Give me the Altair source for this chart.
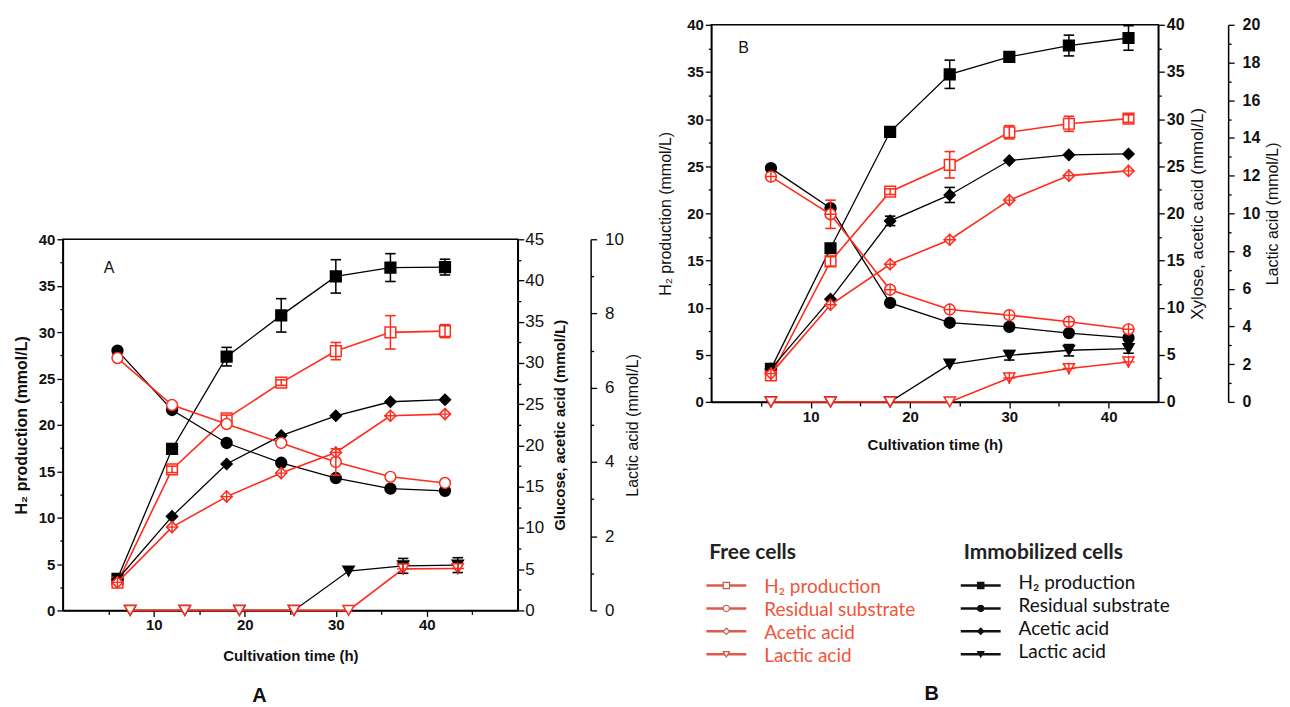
import altair as alt
import pandas as pd

# ---------------- values ----------------
# Panel A (glucose)
time_A = [6, 12, 18, 24, 30, 36, 42]
time_A_lactic = [7.4, 13.4, 19.4, 25.4, 31.4, 37.4, 43.4]
A_h2_imm = [3.4, 17.4, 27.35, 31.8, 36.0, 36.95, 37.0]
A_h2_imm_err = [0, 0, 1.0, 1.8, 1.8, 1.5, 0.85]
A_h2_free = [3.0, 15.2, 20.7, 24.55, 27.95, 29.97, 30.1]
A_h2_free_err = [0, 0.35, 0.35, 0.3, 0.93, 1.8, 0.7]
A_sub_imm = [31.5, 24.3, 20.3, 17.9, 16.05, 14.76, 14.5]
A_sub_imm_err = [0, 0, 0, 0, 0, 0, 0]
A_sub_free = [30.6, 24.9, 22.6, 20.3, 18.0, 16.2, 15.45]
A_sub_free_err = [0, 0, 0, 0, 1.6, 0, 0]
A_ace_imm = [3.75, 11.4, 17.75, 21.2, 23.6, 25.3, 25.55]
A_ace_imm_err = [0, 0, 0, 0, 0, 0, 0]
A_ace_free = [3.4, 10.1, 13.8, 16.65, 19.15, 23.6, 23.8]
A_ace_free_err = [0, 0, 0, 0, 0, 0, 0]
A_lac_imm = [0, 0, 0, 0, 1.06, 1.2, 1.22]
A_lac_imm_err = [0, 0, 0, 0, 0, 0.2, 0.2]
A_lac_free = [0, 0, 0, 0, 0, 1.12, 1.13]
A_lac_free_err = [0, 0, 0, 0, 0, 0, 0]

# Panel B (xylose)
time_B = [6, 12, 18, 24, 30, 36, 42]
B_h2_imm = [3.5, 16.3, 28.65, 34.75, 36.6, 37.8, 38.6]
B_h2_imm_err = [0, 0, 0, 1.5, 0.3, 1.1, 1.3]
B_h2_free = [2.8, 14.9, 22.3, 25.15, 28.6, 29.5, 30.05]
B_h2_free_err = [0, 0.5, 0.3, 1.4, 0.7, 0.8, 0.4]
B_sub_imm = [24.8, 20.55, 10.5, 8.4, 7.95, 7.3, 6.8]
B_sub_imm_err = [0, 0, 0, 0, 0, 0, 0]
B_sub_free = [23.9, 19.9, 11.9, 9.8, 9.2, 8.5, 7.7]
B_sub_free_err = [0, 1.5, 0, 0, 0, 0, 0]
B_ace_imm = [3.5, 10.9, 19.2, 21.95, 25.6, 26.2, 26.3]
B_ace_imm_err = [0, 0, 0.5, 0.8, 0, 0, 0]
B_ace_free = [3.0, 10.3, 14.6, 17.2, 21.4, 24.0, 24.5]
B_ace_free_err = [0, 0, 0, 0, 0, 0, 0]
B_lac_imm = [0, 0, 0, 2.0, 2.47, 2.74, 2.83]
B_lac_imm_err = [0, 0, 0, 0, 0.25, 0.3, 0.25]
B_lac_free = [0, 0, 0, 0, 1.27, 1.77, 2.12]
B_lac_free_err = [0, 0, 0, 0, 0, 0, 0]

# Legend text
legend_groups = ["Free cells", "Immobilized cells"]
legend_items = ["H\u2082 production", "Residual substrate", "Acetic acid", "Lactic acid"]

# ---------------- styling ----------------
FONT = "Liberation Sans"
LFONT = "Lato"
RED = "#ff2b1c"
BLACK = "#000000"
TXT = "#111111"
KEYS = ["h2", "sub", "ace", "lac"]
SHAPES = ["square", "circle", "diamond", "triangle-down"]
SIZES = [115, 125, 190, 150]


def sdf(times, vals, errs, key, cell):
    return pd.DataFrame({"t": times, "v": vals, "err": errs, "key": key, "cell": cell})


def yaxis(title, maxv, step, every, orient, lsize, lweight, tsize, tweight,
          lpad, tpad, offset=0):
    n = int(round(maxv / step))
    vals = [round(i * step, 3) for i in range(n + 1)]
    kw = dict(
        title=title, values=vals, orient=orient, grid=False,
        labelExpr=f"datum.value % {every} === 0 ? datum.label : ''",
        tickSize={"condition": {"test": f"datum.value % {every} !== 0", "value": 3}, "value": 6},
        tickColor=BLACK, tickWidth=1.3, domainColor=BLACK, domainWidth=1.5,
        labelFont=FONT, labelFontSize=lsize, labelFontWeight=lweight, labelColor=TXT,
        labelPadding=lpad, labelOverlap=False,
        titleFont=FONT, titleFontSize=tsize, titleFontWeight=tweight, titleColor=TXT,
        titlePadding=tpad,
    )
    if orient == "right":
        kw["titleAngle"] = 270
        kw["titleBaseline"] = "top"
    if offset:
        kw["offset"] = offset
    return alt.Axis(**kw)


def xaxis(maxv, tweight, lpad, tpad):
    vals = list(range(5, maxv, 5))
    return alt.Axis(
        title="Cultivation time (h)", values=vals, grid=False,
        labelExpr="datum.value % 10 === 0 ? datum.label : ''",
        tickSize={"condition": {"test": "datum.value % 10 !== 0", "value": 4}, "value": 6},
        tickColor=BLACK, tickWidth=1.3, domainColor=BLACK, domainWidth=1.5,
        labelFont=FONT, labelFontSize=15, labelFontWeight="bold", labelColor=TXT,
        labelPadding=lpad, labelFlush=False, labelOverlap=False,
        titleFont=FONT, titleFontSize=15, titleFontWeight=tweight, titleColor=TXT,
        titlePadding=tpad,
    )


def group(frames, x_enc, dom, axis, crossed, extra=None):
    df = pd.concat(frames, ignore_index=True)
    base = alt.Chart(df)
    ysc = alt.Scale(domain=dom, nice=False, zero=False)
    yv = alt.Y("v:Q", scale=ysc, axis=axis)
    shape = alt.Shape("key:N", scale=alt.Scale(domain=KEYS, range=SHAPES), legend=None)
    size = alt.Size("key:N", scale=alt.Scale(domain=KEYS, range=SIZES), legend=None)
    layers = []
    for cell, col, fill, lw in (("imm", BLACK, BLACK, 1.3), ("free", RED, "white", 1.6)):
        d = base.transform_filter(alt.datum.cell == cell)
        layers.append(d.mark_line(color=col, strokeWidth=lw).encode(x=x_enc, y=yv, detail="key:N"))
        layers.append(d.mark_point(filled=True, fill=fill, stroke=col, color=col,
                                   strokeWidth=1.5, opacity=1).encode(x=x_enc, y=yv, shape=shape, size=size))
    e = base.transform_filter(alt.datum.err > 0).transform_calculate(
        lo="datum.v - datum.err", hi="datum.v + datum.err")
    col_enc = alt.Color("cell:N", scale=alt.Scale(domain=["imm", "free"], range=[BLACK, RED]), legend=None)
    ylo = alt.Y("lo:Q", scale=ysc, axis=axis)
    yhi = alt.Y("hi:Q", scale=ysc, axis=axis)
    layers.append(e.mark_rule(strokeWidth=1.5).encode(x=x_enc, y=ylo, y2="hi:Q", color=col_enc))
    for ye in (ylo, yhi):
        layers.append(e.mark_point(shape="M-1,0H1", size=110, strokeWidth=1.6, filled=False,
                                   opacity=1).encode(x=x_enc, y=ye, color=col_enc))
    if crossed:
        expr = "datum.cell === 'free' && datum.v > 0 && (" + " || ".join(
            f"datum.key === '{k}'" for k in crossed) + ")"
        c = base.transform_filter(expr)
        layers.append(c.mark_point(shape="M-1,0H1M0,-1V1", size=150, strokeWidth=1.4, filled=False,
                                   color=RED, opacity=1).encode(x=x_enc, y=yv))
    if extra is not None:
        layers.append(extra)
    return alt.layer(*layers)


def tag(letter, px, py):
    return alt.Chart(pd.DataFrame({"tag": [letter]})).mark_text(
        font=FONT, fontSize=16, color=TXT, align="left", baseline="middle"
    ).encode(text="tag:N", x=alt.value(px), y=alt.value(py))


# ---------------- Panel A ----------------
xA = alt.X("t:Q", scale=alt.Scale(domain=[0, 50], nice=False, zero=False), axis=xaxis(50, "bold", 1, 16))
gA_h2 = group(
    [sdf(time_A, A_h2_imm, A_h2_imm_err, "h2", "imm"), sdf(time_A, A_h2_free, A_h2_free_err, "h2", "free")],
    xA, [0, 40],
    yaxis("H\u2082 production (mmol/L)", 40, 2.5, 5, "left", 15, "bold", 16, "bold", 2, 9),
    [], extra=tag("A", 41, 29))
gA_sub = group(
    [sdf(time_A, A_sub_imm, A_sub_imm_err, "sub", "imm"), sdf(time_A, A_ace_imm, A_ace_imm_err, "ace", "imm"),
     sdf(time_A, A_sub_free, A_sub_free_err, "sub", "free"), sdf(time_A, A_ace_free, A_ace_free_err, "ace", "free")],
    xA, [0, 45],
    yaxis("Glucose, acetic acid (mmol/L)", 45, 2.5, 5, "right", 17, "normal", 15, "bold", 1, 9),
    ["ace"])
gA_lac = group(
    [sdf(time_A_lactic, A_lac_imm, A_lac_imm_err, "lac", "imm"),
     sdf(time_A_lactic, A_lac_free, A_lac_free_err, "lac", "free")],
    xA, [0, 10],
    yaxis("Lactic acid (mmol/L)", 10, 1, 2, "right", 17, "normal", 16, "normal", 8, 1, offset=73),
    ["lac"])
panelA = alt.layer(gA_h2, gA_sub, gA_lac).resolve_scale(y="independent").properties(
    width=456, height=372,
    title=alt.TitleParams("A", orient="bottom", anchor="middle", dx=-31, offset=23,
                          font=FONT, fontSize=20, fontWeight="bold", color=TXT))

# ---------------- Panel B ----------------
xB = alt.X("t:Q", scale=alt.Scale(domain=[0, 45], nice=False, zero=False), axis=xaxis(45, "bold", 2, 13))
gB_h2 = group(
    [sdf(time_B, B_h2_imm, B_h2_imm_err, "h2", "imm"), sdf(time_B, B_h2_free, B_h2_free_err, "h2", "free")],
    xB, [0, 40],
    yaxis("H\u2082 production (mmol/L)", 40, 2.5, 5, "left", 15, "bold", 16, "normal", 2, 13),
    [], extra=tag("B", 27, 23))
gB_sub = group(
    [sdf(time_B, B_sub_imm, B_sub_imm_err, "sub", "imm"), sdf(time_B, B_ace_imm, B_ace_imm_err, "ace", "imm"),
     sdf(time_B, B_sub_free, B_sub_free_err, "sub", "free"), sdf(time_B, B_ace_free, B_ace_free_err, "ace", "free")],
    xB, [0, 40],
    yaxis("Xylose, acetic acid (mmol/L)", 40, 2.5, 5, "right", 16, "bold", 17, "normal", 2, 6),
    ["ace", "sub"])
gB_lac = group(
    [sdf(time_B, B_lac_imm, B_lac_imm_err, "lac", "imm"), sdf(time_B, B_lac_free, B_lac_free_err, "lac", "free")],
    xB, [0, 20],
    yaxis("Lactic acid (mmol/L)", 20, 1, 2, "right", 16, "bold", 16, "normal", 8, 5, offset=70),
    ["lac"])
panelB = alt.layer(gB_h2, gB_sub, gB_lac).resolve_scale(y="independent").properties(width=448, height=378)

# ---------------- Legend (below panel B) ----------------
leg_rows = []
for g in legend_groups:
    for i, lab in enumerate(legend_items):
        leg_rows.append({"group": g, "row": i + 1, "label": lab})
leg_df = pd.DataFrame(leg_rows)
leg_title_df = pd.DataFrame({"group": legend_groups, "row": [0, 0], "label": legend_groups})

lx = alt.X("group:N", scale=alt.Scale(type="point", domain=legend_groups, range=[15, 270], padding=0), axis=None)
ly = alt.Y("row:O", scale=alt.Scale(type="point", domain=[0, 1, 2, 3, 4], range=[27, 119], padding=0), axis=None)
lshape = alt.Shape("row:O", scale=alt.Scale(domain=[1, 2, 3, 4], range=SHAPES), legend=None)

leg_base = alt.Chart(leg_df)
leg_layers = [
    alt.Chart(leg_title_df).mark_text(font=LFONT, fontSize=21, fontWeight="bold", color="#222222",
                                      align="left", baseline="middle", dx=-17, dy=-10).encode(
        x=lx, y=ly, text="label:N")
]
for g, lcol, mfill, mstroke, tcol, tdy in (
        ("Free cells", "#dd5a4c", "white", "#cc5a4c", "#f0553a", 2),
        ("Immobilized cells", "#111111", "#111111", "#111111", "#111111", -2)):
    d = leg_base.transform_filter(alt.datum.group == g)
    leg_layers.append(d.mark_point(shape="M-1,0H1", size=1600, strokeWidth=2.5, filled=False,
                                   color=lcol, opacity=1).encode(x=lx, y=ly))
    leg_layers.append(d.mark_point(filled=True, fill=mfill, stroke=mstroke, strokeWidth=1.2, size=40,
                                   opacity=1).encode(x=lx, y=ly, shape=lshape))
    leg_layers.append(d.mark_text(font=LFONT, fontSize=19, color=tcol, align="left", baseline="middle",
                                  dx=38, dy=tdy).encode(x=lx, y=ly, text="label:N"))
legend = alt.layer(*leg_layers).properties(
    width=442, height=130, view=alt.ViewBackground(stroke="transparent", strokeWidth=0),
    title=alt.TitleParams("B", orient="bottom", anchor="middle", offset=18, frame="group",
                          font=FONT, fontSize=20, fontWeight="bold", color=TXT))

# ---------------- layout ----------------
spacer = alt.Chart(pd.DataFrame({"s": [0]})).mark_point(opacity=0).encode(
    x=alt.value(0), y=alt.value(0)).properties(
    width=10, height=195, view=alt.ViewBackground(stroke="transparent", strokeWidth=0))

colA = alt.vconcat(spacer, panelA, spacing=10)
colB = alt.vconcat(panelB, legend, spacing=82)

chart = alt.hconcat(colA, colB, spacing=15).properties(
    padding={"left": 4, "top": 7, "right": 0, "bottom": 0}
).configure_view(stroke=BLACK, strokeWidth=1.5).configure_axis(grid=False)

chart.save("out.html", embed_options={"renderer": "svg", "actions": False})
